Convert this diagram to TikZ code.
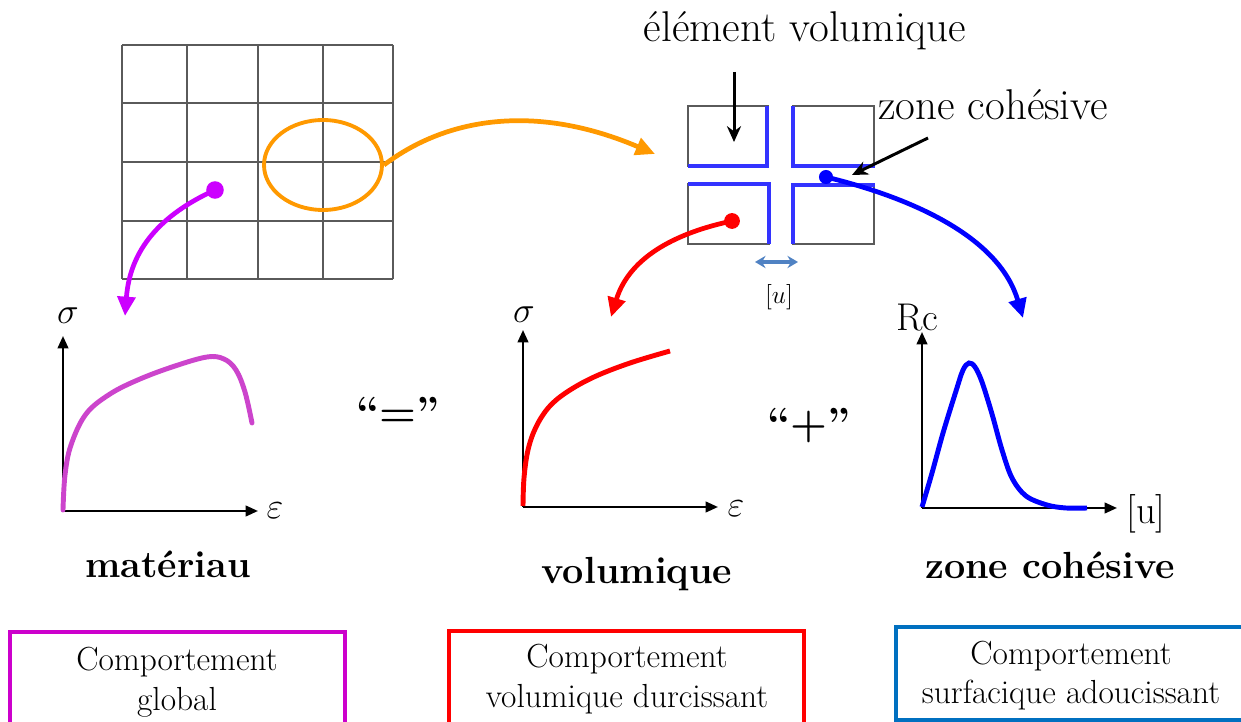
\documentclass[tikz,border=0pt]{standalone}
\usetikzlibrary{arrows.meta,shapes.geometric}
\definecolor{orangeA}{RGB}{255,153,0}
\definecolor{magA}{RGB}{204,0,255}
\definecolor{magC}{RGB}{204,68,204}
\definecolor{magB}{RGB}{204,0,204}
\definecolor{redA}{RGB}{255,0,0}
\definecolor{blueA}{RGB}{0,0,255}
\definecolor{blueS}{RGB}{51,51,255}
\definecolor{blueBox}{RGB}{0,112,192}
\definecolor{steel}{RGB}{80,130,195}
\definecolor{gridc}{RGB}{90,90,90}
\tikzset{
  gridline/.style={draw=gridc, line width=0.6pt},
  bigarrow/.style={line width=2.7pt, -{Triangle[length=11pt,width=10pt]}},
  axisarrow/.style={line width=1.3pt, -{Triangle[length=7pt,width=6pt]}},
  curveline/.style={line width=2.8pt, line cap=round},
  dotnode/.style={circle, inner sep=0pt, minimum size=#1},
  seg/.style={draw=blueS, line width=2.4pt},
  lbl/.style={font=\fontsize{24.5}{29}\selectfont, inner sep=0pt},
  blbl/.style={font=\fontsize{21.5}{26}\selectfont\bfseries, inner sep=0pt},
  boxtxt/.style={font=\fontsize{19}{22.5}\selectfont, align=center, inner sep=0pt},
  mathlbl/.style={font=\fontsize{22}{26}\selectfont, inner sep=0pt}
}
\begin{document}
\begin{tikzpicture}[x=0.02cm,y=-0.02cm]
\useasboundingbox (0,0) rectangle (1241,722);
\clip (0,0) rectangle (1241,722);

% ---- mesh grid
\foreach \x in {122,187,258,323,393} \draw[gridline] (\x,45) -- (\x,279);
\foreach \y in {45,103,162,221,279} \draw[gridline] (122,\y) -- (393,\y);

% orange ellipse and arrow
\node[draw=orangeA, line width=2.2pt, ellipse, minimum width=2.36cm, minimum height=1.8cm, inner sep=0pt] (ell) at (323,165) {};
\coordinate (orangeEnd) at (655,154);
\draw[bigarrow, orangeA] (ell.east) .. controls (450,115) and (540,105) .. (orangeEnd);

% magenta dot and arrow
\node[dotnode=10pt, fill=magA] (mdot) at (215,190) {};
\coordinate (magEnd) at (125,316);
\draw[bigarrow, magA] (mdot.center) .. controls (160,215) and (130,250) .. (magEnd);

% ---- element volumique
\draw[gridline] (688,106) rectangle (768,166);
\draw[gridline] (793,106) rectangle (874,166);
\draw[gridline] (688,184) rectangle (769,244);
\draw[gridline] (793,185) rectangle (874,244);
\draw[seg] (688,166) -- (767,166) -- (767,106);
\draw[seg] (793,106) -- (793,166) -- (875,166);
\draw[seg] (688,184) -- (769,184) -- (769,244);
\draw[seg] (793,244) -- (793,185) -- (875,185);

\node[lbl, anchor=base] (elv) at (805,42) {élément volumique};
\coordinate (elvA) at (734,72);
\coordinate (elvB) at (734,142);
\draw[line width=1.7pt, -{Stealth[length=9pt,width=8pt]}] (elvA) -- (elvB);

\node[lbl, anchor=base] (zc) at (993,120) {zone cohésive};
\coordinate (zcA) at (928,138);
\coordinate (zcB) at (852,175);
\draw[line width=1.7pt, -{Stealth[length=9pt,width=8pt]}] (zcA) -- (zcB);

% double arrow [u]
\coordinate (duA) at (755,262);
\coordinate (duB) at (798,262);
\draw[steel, line width=1.8pt, {Stealth[length=6pt,width=7pt,inset=2pt]}-{Stealth[length=6pt,width=7pt,inset=2pt]}] (duA) -- (duB);
\node[font=\fontsize{15}{18}\selectfont, inner sep=0pt] (ulbl) at (779,297) {$[u]$};

% red dot and arrow
\node[dotnode=9pt, fill=redA] (rdot) at (732,221) {};
\coordinate (redEnd) at (611,317);
\draw[bigarrow, redA] (rdot.center) .. controls (680,232) and (630,255) .. (redEnd);

% blue dot and arrow
\node[dotnode=8pt, fill=blueA] (bdot) at (826,177) {};
\coordinate (blueEnd) at (1023,318);
\draw[bigarrow, blueA] (bdot.center) .. controls (920,200) and (1000,240) .. (blueEnd);

% ---- graph 1 (matériau)
\coordinate (o1) at (63,511);
\coordinate (y1) at (63,336);
\coordinate (x1) at (258,511);
\draw[axisarrow] (o1) -- (y1);
\draw[axisarrow] (o1) -- (x1);
\node[mathlbl] (s1) at (68,316) {$\sigma$};
\node[mathlbl] (e1) at (275,511) {$\varepsilon$};
\draw[curveline, magC] plot[smooth, tension=0.6] coordinates {(63,510) (65,475) (71,445) (86,414) (110,394) (140,379) (175,366) (207,357) (224,359) (236,370) (245,392) (252,423)};
\node[blbl, anchor=base] (mat) at (168,578) {matériau};

\node[font=\fontsize{24}{28}\selectfont\bfseries, inner sep=0pt] (eq) at (398,412) {``=''};

% ---- graph 2 (volumique)
\coordinate (o2) at (523,507);
\coordinate (y2) at (523,330);
\coordinate (x2) at (718,507);
\draw[axisarrow] (o2) -- (y2);
\draw[axisarrow] (o2) -- (x2);
\node[mathlbl] (s2) at (524,315) {$\sigma$};
\node[mathlbl] (e2) at (736,509) {$\varepsilon$};
\draw[curveline, redA, line cap=butt] plot[smooth, tension=0.6] coordinates {(523,506) (524,478) (528,450) (536,427) (549,407) (567,392) (594,377) (630,363) (670,351)};
\node[blbl, anchor=base] (vol) at (637,583) {volumique};

\node[font=\fontsize{24}{28}\selectfont\bfseries, inner sep=0pt] (plus) at (809,426) {``+''};

% ---- graph 3 (zone cohésive)
\coordinate (o3) at (922,508);
\coordinate (y3) at (922,332);
\coordinate (x3) at (1117,508);
\draw[axisarrow] (o3) -- (y3);
\draw[axisarrow] (o3) -- (x3);
\node[font=\fontsize{22}{26}\selectfont, inner sep=0pt] (rc) at (917,318) {Rc};
\node[font=\fontsize{22}{26}\selectfont, inner sep=0pt] (u3) at (1146,514) {[u]};
\draw[curveline, blueA, line cap=butt] plot[smooth, tension=0.55] coordinates {(922,507) (932,473) (943,433) (956,391) (963,370) (969,363) (975,367) (982,382) (992,414) (1002,450) (1012,478) (1026,496) (1047,505) (1066,508) (1087,508)};
\node[blbl, anchor=base] (zcb) at (1050,579) {zone cohésive};

% ---- bottom boxes
\draw[magB, line width=2.2pt] (10,740) -- (10,632) -- (345,632) -- (345,740);
\draw[redA, line width=2.2pt] (449,740) -- (449,631) -- (804,631) -- (804,740);
\draw[blueBox, line width=2.2pt] (896,720) rectangle (1260,627);
\node[boxtxt, anchor=base] (b1) at (177,710) {Comportement\\global};
\node[boxtxt, anchor=base] (b2) at (627,707) {Comportement\\volumique durcissant};
\node[boxtxt, anchor=base] (b3) at (1071,704) {Comportement\\surfacique adoucissant};
\end{tikzpicture}
\end{document}
